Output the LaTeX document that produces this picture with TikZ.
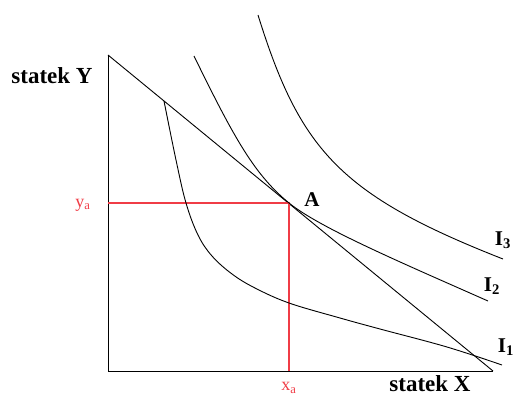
\documentclass[tikz,border=0pt]{standalone}
\usepackage{fontspec}
\setmainfont{Liberation Serif}
\definecolor{guidered}{RGB}{240,60,70}
\begin{document}
\begin{tikzpicture}[x=1pt,y=-1pt,
  curve/.style={black,line width=0.9pt},
  axis/.style={black,line width=1pt},
  guide/.style={guidered,line width=1.1pt},
  lbl/.style={font=\bfseries\fontsize{23}{25}\selectfont,inner sep=0pt},
  ilbl/.style={font=\bfseries\fontsize{21}{23}\selectfont,inner sep=0pt},
  rlbl/.style={guidered,font=\fontsize{18}{20}\selectfont,inner sep=0pt}]
\useasboundingbox (0,0) rectangle (515,397);
\coordinate (O) at (108,371);
\coordinate (Ytop) at (108,55);
\coordinate (Xend) at (493,371);
\coordinate (A) at (289,203);
\coordinate (Ay) at (108,203);
\coordinate (Ax) at (289,371);
% axes
\draw[axis] (Ytop) -- (O) -- (Xend);
% budget line
\draw[curve] (Ytop) -- (Xend);
% guides
\draw[guide] (Ay) -- (A) -- (Ax);
% indifference curves
\draw[curve] plot[smooth,tension=0.6] coordinates {(164,101) (176,160) (186,203) (198,235) (212,256) (232,274) (255,288) (289,303) (340,318) (380,329) (447,347) (502,365)};
\draw[curve] (194,56) .. controls (235,140) and (255,175) .. (A)
                      .. controls (320,228) and (400,262) .. (488,301);
\draw[curve] (258,15) .. controls (300,150) and (340,195) .. (503,259);
% labels
\node[lbl] (ylab) at (52,76) {statek Y};
\node[lbl] (xlab) at (430,384) {statek X};
\node[ilbl] (Alab) at (312,200) {A};
\node[ilbl] (I3) at (503,240) {I\textsubscript{3}};
\node[ilbl] (I2) at (492,286) {I\textsubscript{2}};
\node[ilbl] (I1) at (506,347) {I\textsubscript{1}};
\node[rlbl] (ya) at (83,205) {y\textsubscript{a}};
\node[rlbl] (xa) at (289,388) {x\textsubscript{a}};
\end{tikzpicture}
\end{document}
